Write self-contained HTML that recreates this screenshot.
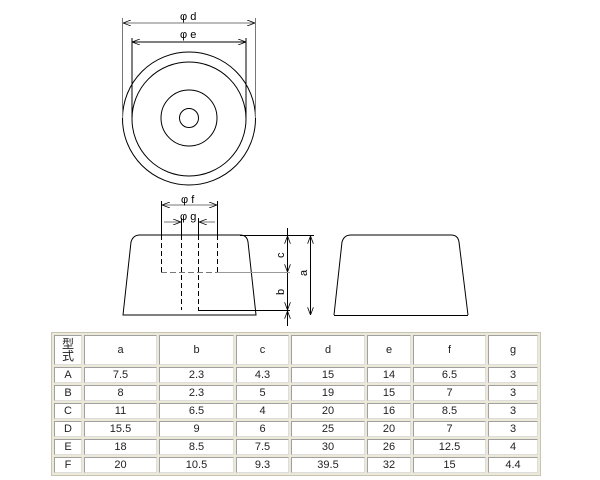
<!DOCTYPE html>
<html><head><style>
body{margin:0;background:#fff;width:600px;height:480px;position:relative;overflow:hidden;font-family:"Liberation Sans","Noto Sans CJK JP",sans-serif;}
svg{position:absolute;left:0;top:0}
table{position:absolute;left:51px;top:332px;width:490px;height:144px;border-collapse:separate;border-spacing:2px;background:#ece9d8;border:1px solid #c8c4b4;font-size:11px;color:#222}
td{background:#fff;border:1px solid #a0a0a0;border-right-color:#ddd;border-bottom-color:#ddd;text-align:center;padding:0;line-height:13px}
</style></head><body>
<svg width="600" height="480" viewBox="0 0 600 480" fill="none" stroke="#000" stroke-width="1">
<defs><marker id="ar" markerWidth="8" markerHeight="6" refX="8" refY="3" orient="auto-start-reverse" markerUnits="userSpaceOnUse"><path d="M0,0 L8,3 L0,6" stroke="#000" fill="none" stroke-width="0.8"/></marker></defs>
<circle cx="189" cy="118.5" r="66.5"/>
<circle cx="189" cy="119" r="57"/>
<circle cx="189" cy="118" r="28"/>
<circle cx="189" cy="118" r="9.5"/>
<line x1="122.5" y1="18" x2="122.5" y2="118" stroke="#777"/>
<line x1="255.5" y1="18" x2="255.5" y2="118" stroke="#777"/>
<line x1="123" y1="23" x2="255" y2="23" stroke="#777" marker-start="url(#ar)" marker-end="url(#ar)"/>
<line x1="132" y1="38" x2="132" y2="118"/>
<line x1="246" y1="38" x2="246" y2="118"/>
<line x1="132" y1="42" x2="246" y2="42" marker-start="url(#ar)" marker-end="url(#ar)"/>
<path d="M123,315 L131,242 Q133,235 140,235 L240,235 Q247,235 248,242 L256,315 Z"/>
<path d="M334,315 L342,242 Q344,235 351,235 L451,235 Q458,235 459,242 L468,315"/>
<line x1="334" y1="315.5" x2="468" y2="315.5"/>
<line x1="240" y1="235.5" x2="314" y2="235.5"/>
<line x1="161.5" y1="201" x2="161.5" y2="235"/><line x1="161.5" y1="235" x2="161.5" y2="272" stroke-dasharray="5,3"/>
<line x1="217.5" y1="201" x2="217.5" y2="235"/><line x1="217.5" y1="235" x2="217.5" y2="272" stroke-dasharray="5,3"/>
<line x1="162" y1="205" x2="217" y2="205" stroke="#777" marker-start="url(#ar)" marker-end="url(#ar)"/>
<line x1="181.5" y1="218" x2="181.5" y2="235"/><line x1="181.5" y1="235" x2="181.5" y2="310" stroke-dasharray="5,3"/>
<line x1="198.5" y1="218" x2="198.5" y2="235"/><line x1="198.5" y1="235" x2="198.5" y2="310" stroke-dasharray="5,3"/>
<line x1="164" y1="222" x2="181" y2="222" stroke="#777" marker-end="url(#ar)"/>
<line x1="215" y1="222" x2="199" y2="222" stroke="#777" marker-end="url(#ar)"/>
<line x1="161" y1="272.5" x2="217" y2="272.5" stroke-dasharray="6,3" stroke="#777"/>
<line x1="217" y1="272.5" x2="290" y2="272.5" stroke="#999"/>
<line x1="198" y1="310.5" x2="290" y2="310.5"/>
<line x1="287.5" y1="228" x2="287.5" y2="235" /><line x1="287.5" y1="236" x2="287.5" y2="272" marker-start="url(#ar)" marker-end="url(#ar)"/>
<line x1="287.5" y1="273" x2="287.5" y2="310" marker-end="url(#ar)"/>
<line x1="287.5" y1="326" x2="287.5" y2="311" marker-end="url(#ar)"/>
<line x1="310.5" y1="236" x2="310.5" y2="315" marker-start="url(#ar)" marker-end="url(#ar)"/>
<g fill="#000" stroke="none" font-size="11" font-family="Liberation Sans, sans-serif">
<text x="180" y="20">φ d</text>
<text x="180" y="38">φ e</text>
<text x="181" y="203">φ f</text>
<text x="180" y="220">φ g</text>
<text transform="translate(284,258) rotate(-90)">c</text>
<text transform="translate(284,295) rotate(-90)">b</text>
<text transform="translate(307,276) rotate(-90)">a</text>
</g>
</svg>
<table>
<tr style="height:30px"><td style="width:26px;line-height:12px;font-size:12px">型<br>式</td><td style="width:71px">a</td><td style="width:73px">b</td><td style="width:51px">c</td><td style="width:72px">d</td><td style="width:42px">e</td><td style="width:71px">f</td><td>g</td></tr>
<tr><td>A</td><td>7.5</td><td>2.3</td><td>4.3</td><td>15</td><td>14</td><td>6.5</td><td>3</td></tr>
<tr><td>B</td><td>8</td><td>2.3</td><td>5</td><td>19</td><td>15</td><td>7</td><td>3</td></tr>
<tr><td>C</td><td>11</td><td>6.5</td><td>4</td><td>20</td><td>16</td><td>8.5</td><td>3</td></tr>
<tr><td>D</td><td>15.5</td><td>9</td><td>6</td><td>25</td><td>20</td><td>7</td><td>3</td></tr>
<tr><td>E</td><td>18</td><td>8.5</td><td>7.5</td><td>30</td><td>26</td><td>12.5</td><td>4</td></tr>
<tr><td>F</td><td>20</td><td>10.5</td><td>9.3</td><td>39.5</td><td>32</td><td>15</td><td>4.4</td></tr>
</table>
</body></html>
